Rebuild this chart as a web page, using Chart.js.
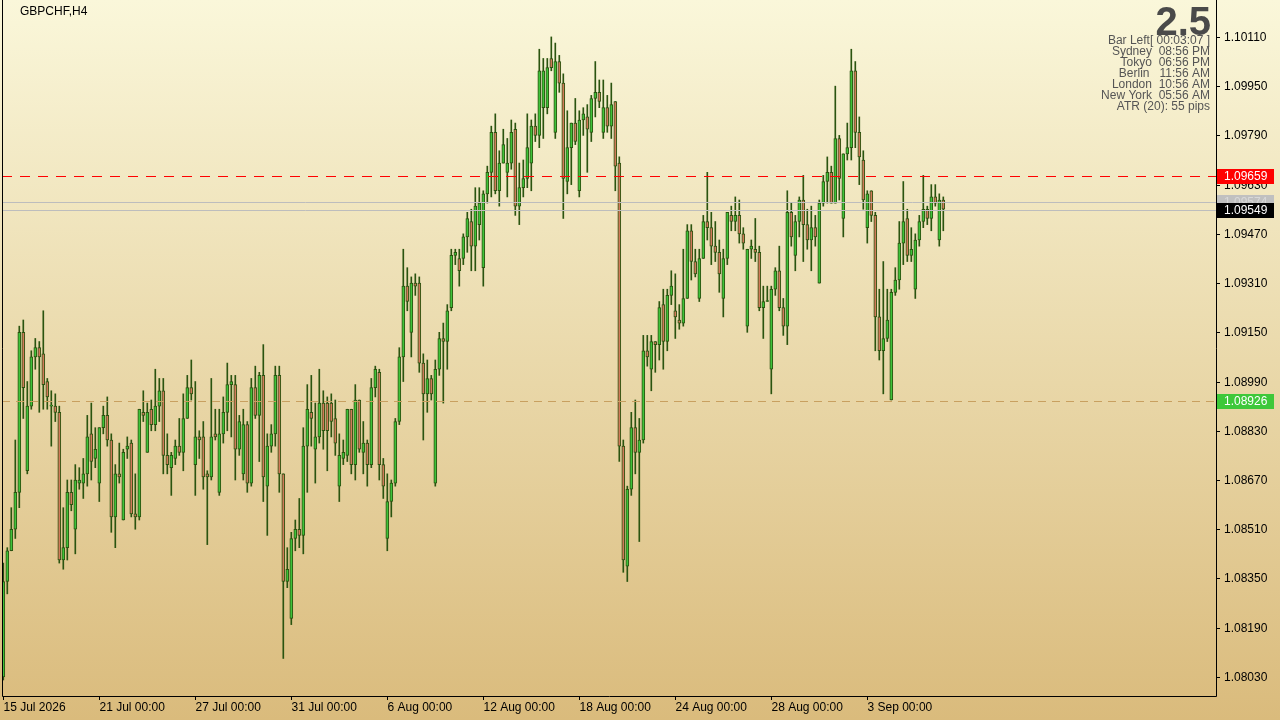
<!DOCTYPE html>
<html>
<head>
<meta charset="utf-8">
<script src="https://cdn.jsdelivr.net/npm/chart.js@4.4.0/dist/chart.umd.min.js"></script>
<style>
  html, body { margin: 0; padding: 0; background: #e8d49c; }
  #wrap { width: 1280px; height: 720px; }
</style>
</head>
<body>
<div id="wrap"><canvas id="chart" width="1280" height="720"></canvas></div>
<script>
// GBPCHF H4 candles
var opens = [1.0803,1.0834,1.0844,1.0851,1.0863,1.0915,1.0870,1.0891,1.0907,1.0910,1.0908,1.0899,1.0891,1.0891,1.0889,1.0841,1.0845,1.0863,1.0851,1.0866,
  1.0866,1.0869,1.0882,1.0874,1.0866,1.0884,1.0888,1.0880,1.0855,1.0869,1.0854,1.0877,1.0879,1.0856,1.0855,1.0889,1.0876,1.0890,1.0885,1.0891,
  1.0896,1.0875,1.0871,1.0874,1.0878,1.0876,1.0887,1.0897,1.0872,1.0881,1.0881,1.0869,1.0868,1.0882,1.0863,1.0882,1.0889,1.0898,1.0898,1.0877,
  1.0869,1.0885,1.0866,1.0897,1.0888,1.0901,1.0865,1.0878,1.0882,1.0901,1.0869,1.0834,1.0822,1.0848,1.0851,1.0849,1.0878,1.0889,1.0877,1.0881,
  1.0892,1.0892,1.0892,1.0887,1.0865,1.0874,1.0875,1.0890,1.0872,1.0893,1.0876,1.0879,1.0872,1.0897,1.0902,1.0872,1.0848,1.0860,1.0866,1.0886,
  1.0907,1.0930,1.0915,1.0931,1.0931,1.0905,1.0895,1.0900,1.0866,1.0903,1.0913,1.0912,1.0923,1.0940,1.0939,1.0939,1.0946,1.0951,1.0943,1.0950,
  1.0936,1.0960,1.0967,1.0980,1.0961,1.0970,1.0967,1.0970,1.0981,1.0956,1.0962,1.0965,1.0970,1.0982,1.0979,1.0988,1.0988,1.1004,1.0980,1.1003,
  1.0996,1.0964,1.0975,1.0983,1.0961,1.0984,1.0985,1.0980,1.0991,1.0993,1.0980,1.0988,1.0982,1.0990,1.0970,1.0878,1.0839,1.0864,1.0884,1.0876,
  1.0880,1.0909,1.0903,1.0912,1.0911,1.0924,1.0912,1.0927,1.0922,1.0919,1.0918,1.0926,1.0948,1.0938,1.0926,1.0939,1.0951,1.0949,1.0943,1.0941,
  1.0926,1.0939,1.0953,1.0951,1.0953,1.0947,1.0917,1.0942,1.0942,1.0941,1.0923,1.0925,1.0903,1.0929,1.0935,1.0923,1.0917,1.0954,1.0940,1.0951,
  1.0958,1.0950,1.0945,1.0949,1.0931,1.0957,1.0964,1.0967,1.0957,1.0978,1.0952,1.0973,1.0975,1.1000,1.0980,1.0971,1.0949,1.0961,1.0953,1.0920,
  1.0909,1.0913,1.0893,1.0928,1.0932,1.0944,1.0952,1.0940,1.0929,1.0945,1.0951,1.0955,1.0952,1.0959,1.0945,1.0958];
var highs = [1.0840,1.0845,1.0858,1.0880,1.0917,1.0919,1.0899,1.0909,1.0913,1.0912,1.0922,1.0900,1.0896,1.0895,1.0891,1.0858,1.0867,1.0867,1.0872,1.0871,
  1.0874,1.0888,1.0892,1.0884,1.0884,1.0891,1.0894,1.0882,1.0872,1.0879,1.0877,1.0881,1.0880,1.0869,1.0890,1.0896,1.0892,1.0893,1.0903,1.0900,
  1.0900,1.0882,1.0876,1.0880,1.0887,1.0895,1.0901,1.0906,1.0899,1.0883,1.0886,1.0870,1.0900,1.0890,1.0890,1.0894,1.0905,1.0901,1.0901,1.0888,
  1.0890,1.0886,1.0900,1.0904,1.0902,1.0911,1.0882,1.0885,1.0904,1.0904,1.0869,1.0845,1.0850,1.0854,1.0861,1.0884,1.0898,1.0901,1.0892,1.0903,
  1.0896,1.0894,1.0895,1.0893,1.0882,1.0880,1.0890,1.0890,1.0898,1.0893,1.0886,1.0880,1.0900,1.0904,1.0903,1.0874,1.0869,1.0867,1.0887,1.0910,
  1.0942,1.0936,1.0933,1.0934,1.0933,1.0908,1.0906,1.0901,1.0906,1.0915,1.0918,1.0924,1.0942,1.0942,1.0942,1.0947,1.0954,1.0955,1.0962,1.0962,
  1.0961,1.0969,1.0982,1.0986,1.0974,1.0981,1.0978,1.0984,1.0983,1.0970,1.0971,1.0986,1.0984,1.0986,1.1007,1.1004,1.1004,1.1011,1.1009,1.1005,
  1.0999,1.0987,1.0983,1.0991,1.0987,1.0988,1.0989,1.0992,1.1003,1.0997,1.0997,1.0992,1.0996,1.0990,1.0972,1.0880,1.0865,1.0889,1.0893,1.0887,
  1.0914,1.0914,1.0914,1.0912,1.0925,1.0929,1.0929,1.0935,1.0934,1.0924,1.0942,1.0950,1.0950,1.0942,1.0942,1.0953,1.0967,1.0954,1.0951,1.0945,
  1.0942,1.0954,1.0956,1.0959,1.0958,1.0949,1.0942,1.0945,1.0952,1.0943,1.0930,1.0930,1.0930,1.0936,1.0943,1.0926,1.0961,1.0957,1.0953,1.0959,
  1.0966,1.0955,1.0956,1.0953,1.0958,1.0966,1.0972,1.0969,1.0995,1.0979,1.0973,1.0983,1.1007,1.1003,1.0985,1.0974,1.0961,1.0961,1.0954,1.0929,
  1.0938,1.0929,1.0929,1.0936,1.0951,1.0964,1.0955,1.0949,1.0947,1.0953,1.0966,1.0956,1.0963,1.0963,1.0960,1.0959];
var lows = [1.0802,1.0830,1.0844,1.0848,1.0858,1.0887,1.0869,1.0890,1.0903,1.0889,1.0890,1.0890,1.0878,1.0886,1.0840,1.0838,1.0841,1.0857,1.0843,1.0864,
  1.0861,1.0865,1.0867,1.0871,1.0860,1.0882,1.0878,1.0850,1.0845,1.0866,1.0854,1.0874,1.0855,1.0851,1.0854,1.0886,1.0876,1.0883,1.0883,1.0886,
  1.0869,1.0869,1.0862,1.0872,1.0875,1.0870,1.0887,1.0893,1.0862,1.0874,1.0864,1.0846,1.0867,1.0880,1.0862,1.0879,1.0883,1.0881,1.0867,1.0875,
  1.0867,1.0863,1.0865,1.0887,1.0873,1.0860,1.0849,1.0876,1.0878,1.0863,1.0809,1.0832,1.0820,1.0844,1.0845,1.0843,1.0863,1.0878,1.0866,1.0879,
  1.0877,1.0870,1.0881,1.0875,1.0860,1.0872,1.0873,1.0869,1.0867,1.0876,1.0869,1.0865,1.0871,1.0894,1.0867,1.0861,1.0844,1.0855,1.0865,1.0885,
  1.0899,1.0922,1.0907,1.0927,1.0902,1.0880,1.0889,1.0893,1.0865,1.0901,1.0892,1.0903,1.0922,1.0937,1.0930,1.0937,1.0941,1.0935,1.0935,1.0945,
  1.0930,1.0957,1.0959,1.0960,1.0956,1.0970,1.0959,1.0968,1.0953,1.0950,1.0959,1.0962,1.0961,1.0977,1.0975,1.0978,1.0986,1.1000,1.0978,1.0993,
  1.0952,1.0960,1.0963,1.0976,1.0959,1.0979,1.0967,1.0977,1.0985,1.0988,1.0978,1.0980,1.0978,1.0961,1.0873,1.0837,1.0834,1.0862,1.0869,1.0847,
  1.0879,1.0904,1.0896,1.0902,1.0906,1.0903,1.0909,1.0924,1.0913,1.0916,1.0917,1.0926,1.0932,1.0933,1.0925,1.0939,1.0945,1.0937,1.0938,1.0928,
  1.0920,1.0937,1.0948,1.0948,1.0944,1.0942,1.0915,1.0939,1.0938,1.0922,1.0913,1.0925,1.0895,1.0927,1.0922,1.0914,1.0911,1.0943,1.0935,1.0946,
  1.0938,1.0942,1.0935,1.0943,1.0931,1.0956,1.0957,1.0957,1.0957,1.0958,1.0946,1.0971,1.0971,1.0975,1.0963,1.0955,1.0944,1.0951,1.0909,1.0906,
  1.0895,1.0912,1.0893,1.0927,1.0929,1.0937,1.0938,1.0938,1.0926,1.0943,1.0949,1.0950,1.0948,1.0956,1.0943,1.0948];
var closes = [1.0834,1.0844,1.0851,1.0863,1.0915,1.0897,1.0891,1.0907,1.0910,1.0907,1.0898,1.0894,1.0891,1.0889,1.0841,1.0845,1.0863,1.0859,1.0867,1.0867,
  1.0869,1.0881,1.0873,1.0877,1.0884,1.0888,1.0880,1.0855,1.0869,1.0868,1.0876,1.0878,1.0856,1.0855,1.0890,1.0888,1.0889,1.0885,1.0891,1.0896,
  1.0875,1.0872,1.0875,1.0878,1.0876,1.0887,1.0897,1.0895,1.0881,1.0880,1.0868,1.0868,1.0881,1.0881,1.0882,1.0889,1.0898,1.0899,1.0877,1.0886,
  1.0885,1.0866,1.0897,1.0888,1.0901,1.0868,1.0878,1.0882,1.0901,1.0869,1.0834,1.0838,1.0848,1.0851,1.0849,1.0878,1.0890,1.0887,1.0881,1.0892,
  1.0883,1.0883,1.0886,1.0879,1.0875,1.0876,1.0890,1.0872,1.0893,1.0877,1.0879,1.0872,1.0897,1.0903,1.0872,1.0865,1.0860,1.0866,1.0886,1.0907,
  1.0930,1.0925,1.0931,1.0930,1.0905,1.0895,1.0900,1.0895,1.0903,1.0913,1.0912,1.0922,1.0940,1.0941,1.0935,1.0946,1.0952,1.0943,1.0956,1.0957,
  1.0960,1.0967,1.0980,1.0961,1.0970,1.0976,1.0970,1.0980,1.0956,1.0962,1.0965,1.0975,1.0982,1.0979,1.1000,1.1000,1.1001,1.1001,1.1003,1.0996,
  1.0965,1.0975,1.0983,1.0977,1.0984,1.0986,1.0981,1.0991,1.0993,1.0990,1.0988,1.0982,1.0989,1.0969,1.0878,1.0841,1.0864,1.0884,1.0876,1.0880,
  1.0909,1.0907,1.0912,1.0911,1.0923,1.0912,1.0927,1.0930,1.0920,1.0918,1.0926,1.0948,1.0938,1.0934,1.0939,1.0951,1.0949,1.0943,1.0941,1.0934,
  1.0939,1.0954,1.0951,1.0953,1.0947,1.0944,1.0942,1.0943,1.0941,1.0923,1.0925,1.0925,1.0929,1.0935,1.0923,1.0917,1.0954,1.0946,1.0951,1.0958,
  1.0950,1.0945,1.0949,1.0946,1.0957,1.0964,1.0967,1.0957,1.0978,1.0965,1.0973,1.0975,1.1000,1.0980,1.0972,1.0958,1.0960,1.0953,1.0920,1.0909,
  1.0913,1.0919,1.0928,1.0932,1.0944,1.0951,1.0940,1.0942,1.0945,1.0951,1.0955,1.0952,1.0959,1.0957,1.0958,1.0955];

var yTicks = [1.08030, 1.08190, 1.08350, 1.08510, 1.08670, 1.08830, 1.08990, 1.09150, 1.09310, 1.09470, 1.09630, 1.09790, 1.09950, 1.10110];
var xTickIdx = [0, 24, 48, 72, 96, 120, 144, 168, 192, 216];
var xTickText = ['15 Jul 2026', '21 Jul 00:00', '27 Jul 00:00', '31 Jul 00:00', '6 Aug 00:00', '12 Aug 00:00', '18 Aug 00:00', '24 Aug 00:00', '28 Aug 00:00', '3 Sep 00:00'];
var resistance = 1.09659, support = 1.08926, askPrice = 1.09574, bidPrice = 1.09549;
var infoLines = ['Bar Left[ 00:03:07 ]', 'Sydney  08:56 PM', 'Tokyo  06:56 PM', 'Berlin   11:56 AM', 'London  10:56 AM', 'New York  05:56 AM', 'ATR (20): 55 pips'];

var wicks = [], bodies = [], bodyColors = [];
for (var i = 0; i < closes.length; i++) {
  wicks.push({x: i, y: [lows[i], highs[i]]});
  bodies.push({x: i, y: [Math.min(opens[i], closes[i]), Math.max(opens[i], closes[i])]});
  bodyColors.push(closes[i] >= opens[i] ? '#3fc23a' : '#d07a5a');
}

var FONT = '12px "Liberation Sans", Arial, sans-serif';

var mt4 = {
  id: 'mt4',
  beforeDraw: function(chart) {
    var c = chart.ctx;
    var g = c.createLinearGradient(0, 0, 0, 720);
    g.addColorStop(0, '#faf7da');
    g.addColorStop(1, '#dabb7c');
    c.save();
    c.fillStyle = g;
    c.fillRect(0, 0, 1280, 720);
    c.restore();
  },
  afterDatasetsDraw: function(chart) {
    var c = chart.ctx, a = chart.chartArea;
    var ys = chart.scales.y, xs = chart.scales.x;
    c.save();
    // level lines
    function hline(v, color, dash) {
      var y = Math.round(ys.getPixelForValue(v)) + 0.5;
      c.strokeStyle = color; c.lineWidth = 1; c.setLineDash(dash);
      c.beginPath(); c.moveTo(a.left, y); c.lineTo(a.right, y); c.stroke();
    }
    hline(askPrice, '#bdbdbd', []);
    hline(bidPrice, '#bdbdbd', []);
    hline(resistance, '#ff0000', [10, 8]);
    hline(support, '#c8a060', [8, 6]);
    c.setLineDash([]);
    // frame
    c.strokeStyle = '#000'; c.lineWidth = 1;
    c.beginPath();
    c.moveTo(a.left + 0.5, a.top); c.lineTo(a.left + 0.5, a.bottom + 0.5);
    c.lineTo(a.right + 0.5, a.bottom + 0.5); c.lineTo(a.right + 0.5, a.top);
    c.stroke();
    // y ticks
    c.font = FONT; c.fillStyle = '#000'; c.textBaseline = 'middle'; c.textAlign = 'left';
    yTicks.forEach(function(v) {
      var y = Math.round(ys.getPixelForValue(v)) + 0.5;
      c.beginPath(); c.moveTo(a.right, y); c.lineTo(a.right + 4, y); c.stroke();
      c.fillText(v.toFixed(5), a.right + 8, y);
    });
    // x ticks
    c.textBaseline = 'top';
    xTickIdx.forEach(function(idx, k) {
      var x = Math.round(xs.getPixelForValue(idx)) + 0.5;
      c.beginPath(); c.moveTo(x, a.bottom); c.lineTo(x, a.bottom + 4); c.stroke();
      c.fillText(xTickText[k], x, a.bottom + 6);
    });
    // price labels
    function tag(v, bg, fg) {
      var y = Math.round(ys.getPixelForValue(v));
      c.fillStyle = bg; c.fillRect(a.right + 1, y - 7, 57, 15);
      c.fillStyle = fg; c.textBaseline = 'middle';
      c.fillText(v.toFixed(5), a.right + 8, y + 1);
    }
    tag(askPrice, '#c0c0c0', '#d8d8d8');
    tag(resistance, '#ff0000', '#ffffff');
    tag(bidPrice, '#000000', '#ffffff');
    tag(support, '#3ec83a', '#ffffff');
    // texts
    c.fillStyle = '#000'; c.textAlign = 'left'; c.textBaseline = 'middle';
    c.fillText('GBPCHF,H4', 20, 12);
    c.fillStyle = '#4a4a4a'; c.textAlign = 'right';
    c.font = 'bold 40px "Liberation Sans", Arial, sans-serif';
    c.fillText('2.5', 1211, 24);
    c.font = FONT; c.fillStyle = '#555';
    infoLines.forEach(function(t, k) { c.fillText(t, 1210, 41 + k * 11); });
    c.restore();
  }
};

new Chart(document.getElementById('chart'), {
  type: 'bar',
  data: {
    datasets: [
      {data: wicks, backgroundColor: '#2b5410', barThickness: 1, borderWidth: 0, grouped: false, order: 2},
      {data: bodies, backgroundColor: bodyColors, borderColor: '#2b5410', borderWidth: 1, borderSkipped: false,
       barThickness: 3, grouped: false, minBarLength: 1, order: 1}
    ]
  },
  options: {
    responsive: false,
    animation: false,
    layout: {padding: {left: 2, right: 64, top: 0, bottom: 24}},
    plugins: {legend: {display: false}, tooltip: {enabled: false}},
    scales: {
      x: {type: 'linear', display: false, min: -0.325, max: 303.175, offset: false},
      y: {display: false, min: 1.07968, max: 1.10230}
    }
  },
  plugins: [mt4]
});
</script>
</body>
</html>
